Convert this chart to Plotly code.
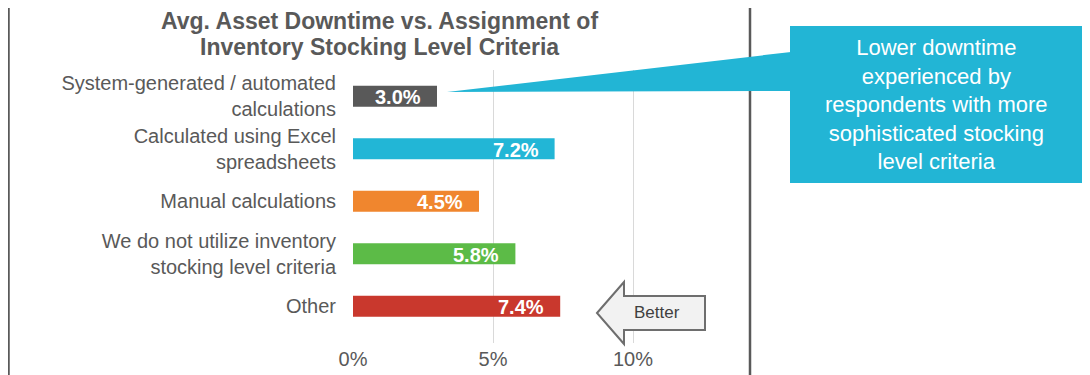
import plotly.graph_objects as go

categories = [
    "System-generated / automated<br>calculations",
    "Calculated using Excel<br>spreadsheets",
    "Manual calculations",
    "We do not utilize inventory<br>stocking level criteria",
    "Other",
]
values = [3.0, 7.2, 4.5, 5.8, 7.4]
bar_colors = ["#595959", "#22B6D6", "#F0862E", "#5CBB47", "#C9382D"]
x_ticks = [0, 5, 10]
x_tick_labels = ["0%", "5%", "10%"]
title_lines = ["Avg. Asset Downtime vs. Assignment of", "Inventory Stocking Level Criteria"]
callout_text = ("Lower downtime<br>experienced by<br>respondents with more<br>"
                "sophisticated stocking<br>level criteria")
arrow_text = "Better"

FONT = "Liberation Sans, Arial, sans-serif"
OFF = 8                      # page body margin of the html page
W, H = 1090 - OFF, 375 - OFF
# plot area in window pixels
PL, PR, PT, PB = 353, 353 + 13 * 28, 70, 343
GRAY = "#595959"
CYAN = "#22B5D5"


def px(x):
    return (x - PL) / (PR - PL)


def py(y):
    return (PB - y) / (PB - PT)


fig = go.Figure(go.Bar(
    x=values,
    y=categories,
    orientation="h",
    width=0.4,
    marker=dict(color=bar_colors, line=dict(width=0)),
    hoverinfo="skip",
))

# value labels, placed inside the bar end
annotations = []
for c, v in zip(categories, values):
    annotations.append(dict(
        x=v, y=c, xref="x", yref="y", text=f"<b>{v:.1f}%</b>",
        xanchor="right", yanchor="middle", xshift=-14, yshift=-1, showarrow=False,
        font=dict(family=FONT, size=20, color="white")))

shapes = []
# frame lines
for xx in (8.5, 750):
    shapes.append(dict(type="line", xref="paper", yref="paper",
                       x0=px(xx), x1=px(xx), y0=py(0), y1=py(380),
                       line=dict(color=GRAY, width=2.5), layer="below"))
# callout wedge and box
shapes.append(dict(type="path", xref="paper", yref="paper",
                   path=f"M {px(447)} {py(92)} L {px(791)} {py(52)} L {px(791)} {py(91)} Z",
                   fillcolor=CYAN, line=dict(width=0)))
shapes.append(dict(type="rect", xref="paper", yref="paper",
                   x0=px(790), x1=px(1082), y0=py(26), y1=py(183),
                   fillcolor=CYAN, line=dict(width=0)))
# Better arrow
ap = [(597, 313), (624, 282), (624, 296), (705, 296), (705, 330), (624, 330), (624, 344)]
path = "M " + " L ".join(f"{px(a)} {py(b)}" for a, b in ap) + " Z"
shapes.append(dict(type="path", xref="paper", yref="paper", path=path,
                   fillcolor="#F2F2F2", line=dict(color="#6E6E6E", width=2)))

for line, yy in zip(title_lines, (21, 47)):
    annotations.append(dict(text=f"<b>{line}</b>", xref="paper", yref="paper",
                            x=px(379), y=py(yy), xanchor="center", yanchor="middle",
                            showarrow=False, font=dict(family=FONT, size=23, color=GRAY)))
annotations += [
    dict(text=callout_text, xref="paper", yref="paper", x=px(936), y=py(104),
         xanchor="center", yanchor="middle", showarrow=False,
         font=dict(family=FONT, size=22, color="white")),
    dict(text=arrow_text, xref="paper", yref="paper", x=px(657), y=py(312),
         xanchor="center", yanchor="middle", showarrow=False,
         font=dict(family=FONT, size=17, color="#404040")),
]

fig.update_layout(
    width=W, height=H,
    margin=dict(l=PL - OFF, r=W - (PR - OFF), t=PT - OFF, b=H - (PB - OFF), pad=0,
                autoexpand=False),
    paper_bgcolor="white", plot_bgcolor="white",
    showlegend=False,
    shapes=shapes,
    annotations=annotations,
    xaxis=dict(range=[0, 13], tickvals=x_ticks, ticktext=x_tick_labels,
               showgrid=True, gridcolor="#D9D9D9", gridwidth=1,
               zeroline=False, showline=False, ticks="", automargin=False,
               ticklabelstandoff=2,
               tickfont=dict(family=FONT, size=20, color=GRAY)),
    yaxis=dict(range=[4.7, -0.5], showgrid=False, zeroline=False, showline=False,
               ticks="", ticklabelstandoff=16, automargin=False,
               tickfont=dict(family=FONT, size=20, color=GRAY)),
)

fig.write_html("out.html")
